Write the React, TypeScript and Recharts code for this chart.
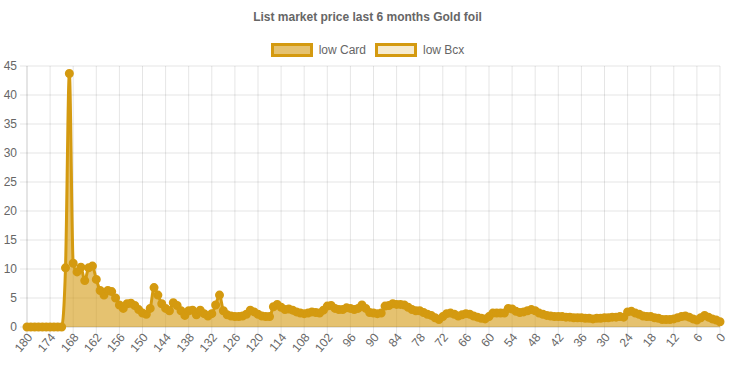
import { AreaChart, Area, XAxis, YAxis, CartesianGrid, Legend } from "recharts"

const GOLD = "#d49a10"
const FONT = "Arial, 'Liberation Sans', Helvetica, sans-serif"

// days remaining, from 180 down to 0
const days = Array.from({ length: 181 }, (_, i) => 180 - i)

const lowCard = [
  0, 0, 0, 0, 0, 0, 0, 0, 0, 0,
  10.2, 43.7, 11.0, 9.5, 10.3, 8.0, 10.2, 10.5, 8.2, 6.3,
  5.5, 6.3, 6.1, 5.0, 3.8, 3.2, 4.0, 4.1, 3.7, 3.0,
  2.4, 2.2, 3.2, 6.8, 5.5, 4.0, 3.2, 2.8, 4.2, 3.7,
  2.8, 2.0, 2.8, 2.9, 2.1, 2.9, 2.3, 1.9, 2.3, 3.8,
  5.5, 2.8, 2.1, 1.9, 1.8, 1.8, 1.9, 2.2, 2.9, 2.6,
  2.2, 1.9, 1.8, 1.8, 3.5, 3.9, 3.4, 3.0, 3.1, 2.9,
  2.6, 2.4, 2.3, 2.4, 2.6, 2.5, 2.4, 2.9, 3.6, 3.7,
  3.2, 3.0, 3.0, 3.3, 3.2, 3.0, 3.2, 3.8, 3.2, 2.5,
  2.4, 2.3, 2.4, 3.6, 3.7, 4.0, 3.9, 3.9, 3.8, 3.4,
  3.0, 2.8, 2.8, 2.5, 2.2, 2.0, 1.6, 1.3, 1.8, 2.3,
  2.4, 2.2, 1.9, 2.1, 2.3, 2.2, 1.9, 1.7, 1.5, 1.4,
  1.8, 2.4, 2.4, 2.4, 2.4, 3.2, 3.1, 2.7, 2.5, 2.6,
  2.8, 3.0, 2.8, 2.4, 2.2, 2.0, 1.9, 1.8, 1.8, 1.8,
  1.7, 1.7, 1.6, 1.6, 1.6, 1.5, 1.5, 1.4, 1.5, 1.5,
  1.6, 1.6, 1.7, 1.7, 1.8, 1.7, 2.6, 2.7, 2.4, 2.2,
  1.9, 1.8, 1.8, 1.6, 1.5, 1.3, 1.3, 1.3, 1.4, 1.6,
  1.8, 1.9, 1.7, 1.4, 1.2, 1.6, 2.0, 1.7, 1.4, 1.2,
  0.9,
]

// no Bcx prices in this period
const lowBcx: (number | null)[] = []

const yTicks = [0, 5, 10, 15, 20, 25, 30, 35, 40, 45]

const data = days.map((d, i) => ({
  day: String(d),
  card: lowCard[i],
  bcx: lowBcx[i] ?? null,
}))

const series = [
  { key: "card", name: "low Card", fill: "rgba(212,154,16,0.6)" },
  { key: "bcx", name: "low Bcx", fill: "rgba(212,154,16,0.2)" },
]

function RotatedTick({ x, y, payload }: any) {
  return (
    <g transform={`translate(${x + 3},${y - 2})`}>
      <text
        textAnchor="end"
        dy={4}
        transform="rotate(-50)"
        fill="#666"
        fontSize={12}
        fontFamily={FONT}
      >
        {payload.value}
      </text>
    </g>
  )
}

function ChartLegend() {
  return (
    <div
      style={{
        display: "flex",
        justifyContent: "center",
        alignItems: "center",
        fontFamily: FONT,
        fontSize: 12,
        color: "#666",
      }}
    >
      {series.map((s, i) => (
        <div
          key={s.key}
          style={{ display: "flex", alignItems: "center", marginLeft: i ? 9 : 0 }}
        >
          <span
            style={{
              display: "inline-block",
              width: 36,
              height: 8,
              border: `3px solid ${GOLD}`,
              background: s.fill,
              marginRight: 6,
            }}
          />
          <span>{s.name}</span>
        </div>
      ))}
    </div>
  )
}

export default function App() {
  return (
    <div style={{ position: "absolute", left: 0, top: 0, width: 735, height: 367, background: "#fff" }}>
      <div
        style={{
          position: "absolute",
          top: 10,
          left: 0,
          width: 735,
          textAlign: "center",
          fontFamily: FONT,
          fontSize: 12,
          fontWeight: "bold",
          color: "#666",
        }}
      >
        List market price last 6 months Gold foil
      </div>
      <AreaChart
        width={735}
        height={367}
        data={data}
        margin={{ top: 66, right: 15, left: 0, bottom: 0 }}
      >
        <CartesianGrid stroke="rgba(0,0,0,0.1)" />
        <XAxis
          dataKey="day"
          interval={5}
          height={40}
          tickSize={8}
          tickMargin={2}
          stroke="rgba(0,0,0,0.1)"
          tick={<RotatedTick />}
        />
        <YAxis
          domain={[0, 45]}
          ticks={yTicks}
          width={27}
          tickSize={7}
          tickMargin={3}
          stroke="rgba(0,0,0,0.1)"
          tick={{ fill: "#666", fontSize: 12, fontFamily: FONT }}
        />
        <Legend
          layout="horizontal"
          verticalAlign="middle"
          align="center"
          wrapperStyle={{ top: 43, left: 0, width: 735 }}
          content={<ChartLegend />}
        />
        {series.map((s) => (
          <Area
            key={s.key}
            type="monotone"
            dataKey={s.key}
            name={s.name}
            stroke={GOLD}
            strokeWidth={3}
            fill={s.fill}
            fillOpacity={1}
            dot={{ r: 3.5, fill: GOLD, stroke: GOLD, strokeWidth: 2 }}
            activeDot={false}
            isAnimationActive={false}
          />
        ))}
      </AreaChart>
    </div>
  )
}
